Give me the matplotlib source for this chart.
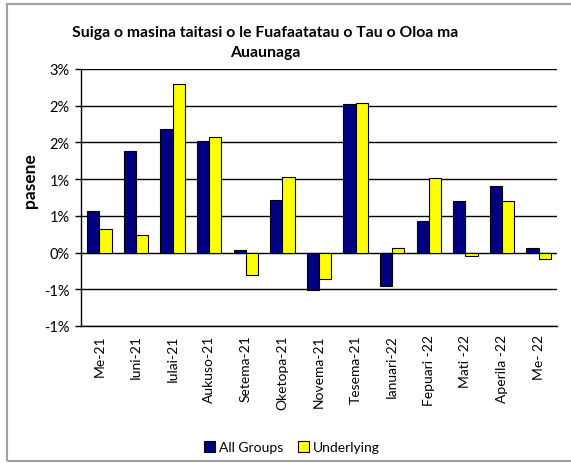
import numpy as np
import matplotlib.pyplot as plt
from matplotlib.patches import Rectangle

plt.rcParams['font.family'] = ['Lato', 'DejaVu Sans']

months = ['Me-21', 'Iuni-21', 'Iulai-21', 'Aukuso-21', 'Setema-21', 'Oketopa-21',
          'Novema-21', 'Tesema-21', 'Ianuari-22', 'Fepuari -22', 'Mati -22',
          'Aperila -22', 'Me- 22']
all_groups = [0.56, 1.39, 1.68, 1.52, 0.04, 0.72, -0.51, 2.02, -0.45, 0.43, 0.70, 0.91, 0.06]
underlying = [0.32, 0.24, 2.29, 1.58, -0.30, 1.03, -0.36, 2.04, 0.06, 1.01, -0.05, 0.70, -0.09]
yticks = [-1.0, -0.5, 0.0, 0.5, 1.0, 1.5, 2.0, 2.5]
ylabels = ['-1%', '-1%', '0%', '1%', '1%', '2%', '2%', '3%']

W, H = 571, 464
fig = plt.figure(figsize=(W/100, H/100), dpi=100)
ax = fig.add_axes([81/W, (H-327)/H, 476/W, 257/H])

x = np.arange(len(months))
bw = 0.335
ax.bar(x - bw/2, all_groups, bw, color='#000080', edgecolor='black', linewidth=0.8,
       label='All Groups', zorder=3)
ax.bar(x + bw/2, underlying, bw, color='#ffff00', edgecolor='black', linewidth=0.8,
       label='Underlying', zorder=3)

ax.set_xlim(-0.5, len(months) - 0.5)
ax.set_ylim(-1.0, 2.5)
ax.set_yticks(yticks)
ax.set_yticklabels(ylabels, fontsize=10.5)
ax.set_xticks(x)
ax.set_xticklabels(months, rotation=90, fontsize=10)
ax.tick_params(axis='x', length=0, pad=6)
ax.tick_params(axis='y', length=4, width=1, direction='out', pad=4)
ax.yaxis.grid(True, color='black', linewidth=1)
ax.set_axisbelow(True)
for s in ['top', 'right']:
    ax.spines[s].set_visible(False)
ax.spines['left'].set_linewidth(1)
ax.spines['bottom'].set_linewidth(1)

fig.text(265/W, 1 - 43/H, 'Suiga o masina taitasi o le Fuafaatatau o Tau o Oloa ma\nAuaunaga',
         ha='center', va='center', fontsize=11.3, fontweight='bold', linespacing=1.55)
fig.text(30/W, 1 - 181/H, 'pasene', rotation=90, ha='center', va='center',
         fontsize=12.5, fontweight='bold')

fig.legend(loc='center', bbox_to_anchor=(292/W, 1 - 448/H), ncol=2, frameon=False,
           fontsize=10, handlelength=0.8, handleheight=0.8, handletextpad=0.3,
           columnspacing=1.0)

fig.patches.append(Rectangle((7/W, 1 - 462/H), 1.0, 457/H, transform=fig.transFigure,
                             fill=False, edgecolor='#a0a0a0', linewidth=1.5))

fig.savefig('out.png', dpi=100)
